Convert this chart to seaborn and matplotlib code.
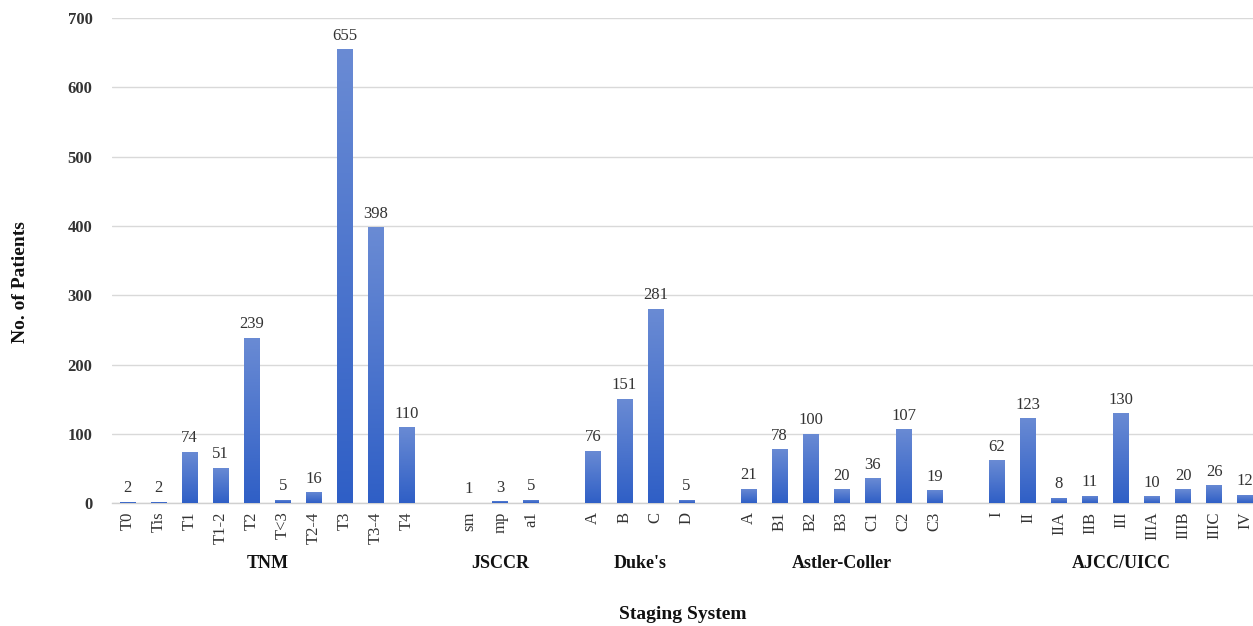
import numpy as np
import pandas as pd
import matplotlib
matplotlib.use("Agg")
import matplotlib.pyplot as plt
from matplotlib.colors import LinearSegmentedColormap
import seaborn as sns

# Staging systems and their stages
groups = ["TNM", "JSCCR", "Duke's", "Astler-Coller", "AJCC/UICC"]
tnm_stages = ["T0", "Tis", "T1", "T1-2", "T2", "T<3", "T2-4", "T3", "T3-4", "T4"]
tnm_counts = [2, 2, 74, 51, 239, 5, 16, 655, 398, 110]
jsccr_stages = ["sm", "mp", "a1"]
jsccr_counts = [1, 3, 5]
dukes_stages = ["A", "B", "C", "D"]
dukes_counts = [76, 151, 281, 5]
astler_stages = ["A", "B1", "B2", "B3", "C1", "C2", "C3"]
astler_counts = [21, 78, 100, 20, 36, 107, 19]
ajcc_stages = ["I", "II", "IIA", "IIB", "III", "IIIA", "IIIB", "IIIC", "IV"]
ajcc_counts = [62, 123, 8, 11, 130, 10, 20, 26, 12]

stage_lists = [tnm_stages, jsccr_stages, dukes_stages, astler_stages, ajcc_stages]
count_lists = [tnm_counts, jsccr_counts, dukes_counts, astler_counts, ajcc_counts]

# Lay the groups side by side with one empty slot between them
rows = []
slot = 0
group_centers = []
for g, stages, counts in zip(groups, stage_lists, count_lists):
    start = slot
    for s, c in zip(stages, counts):
        rows.append({"group": g, "stage": s, "pos": slot, "count": c})
        slot += 1
    group_centers.append((start + slot - 1) / 2)
    slot += 1
df = pd.DataFrame(rows)

sns.set_theme(style="white")
plt.rcParams["font.family"] = ["Liberation Serif", "DejaVu Serif"]

fig = plt.figure(figsize=(12.53, 6.26), dpi=100)
ax = fig.add_axes([0.0894, 0.196, 0.9106, 0.775])

sns.barplot(data=df, x="pos", y="count", native_scale=True, width=0.5,
            color="#3a66c8", ax=ax, errorbar=None, zorder=3)

# Vertical gradient fill for each bar, light at the top and deep blue at the base
cmap = LinearSegmentedColormap.from_list("bar", ["#2f5fc6", "#6a8bd4"])
grad = np.linspace(0, 1, 256).reshape(-1, 1)
for patch in ax.patches:
    x0, y0 = patch.get_x(), patch.get_y()
    w, h = patch.get_width(), patch.get_height()
    if h <= 0:
        continue
    im = ax.imshow(grad, cmap=cmap, origin="lower", aspect="auto",
                   extent=[x0, x0 + w, y0, y0 + h], zorder=3)
    im.set_clip_path(patch)
    patch.set_facecolor("none")
    patch.set_edgecolor("none")

# Value labels above the bars
for _, r in df.iterrows():
    ax.text(r["pos"], r["count"] + 8, f"{r['count']}", ha="center", va="bottom",
            fontsize=12, color="#333333", zorder=4)

ax.set_xlim(-0.5, 36.25)
ax.set_ylim(0, 700)
ax.set_yticks(np.arange(0, 701, 100))
ax.set_yticklabels([str(v) for v in range(0, 701, 100)], fontweight="bold",
                   fontsize=12, color="#333333")
ax.yaxis.grid(True, color="#d9d9d9", linewidth=1, zorder=0)
ax.set_axisbelow(True)
ax.tick_params(axis="y", length=0, pad=14)

ax.set_xticks(df["pos"])
ax.set_xticklabels(df["stage"], rotation=90, fontsize=12, color="#333333")
ax.tick_params(axis="x", length=0, pad=6)

for side in ["top", "right", "left"]:
    ax.spines[side].set_visible(False)
ax.spines["bottom"].set_color("#d0d0d0")
ax.spines["bottom"].set_linewidth(1)

# Group names under the stage labels
for g, c in zip(groups, group_centers):
    ax.text(c, -0.124, g, transform=ax.get_xaxis_transform(), ha="center",
            va="center", fontsize=13, fontweight="bold", color="#111111")

ax.set_xlabel("")
ax.set_ylabel("")
fig.text(0.545, 0.019, "Staging System", ha="center", va="center",
         fontsize=14, fontweight="bold", color="#111111")
fig.text(0.016, 0.55, "No. of Patients", ha="center", va="center",
         rotation=90, fontsize=14, fontweight="bold", color="#111111")

fig.savefig("out.png", dpi=100)
